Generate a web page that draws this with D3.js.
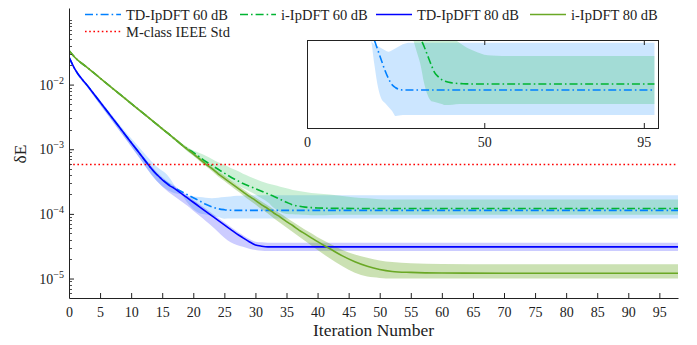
<!DOCTYPE html>
<html>
<head>
<meta charset="utf-8">
<script src="https://cdn.jsdelivr.net/npm/d3@7"></script>
<style>
  body { margin: 0; background: #fff; }
  svg text { font-family: "Liberation Serif", "DejaVu Serif", serif !important; fill: #222; }
</style>
</head>
<body>
<div id="chart"></div>
<script>
// iteration grid shared by every series
var iterations = [0,1,3,5,8,11,14,16,17,18,19,20,21,22,23,24,25,26,27,28,29,30,31,32,33,34,35,36,37,38,39,40,42,44,46,48,50,52,55,60,70,98];

var td60Mean = [-1.574,-1.77,-2.02,-2.27,-2.645,-3.02,-3.38,-3.54,-3.60,-3.65,-3.70,-3.75,-3.80,-3.85,-3.89,-3.92,-3.935,-3.943,-3.946,-3.946,-3.946,-3.946,-3.946,-3.946,-3.946,-3.946,-3.946,-3.946,-3.946,-3.946,-3.946,-3.946,-3.946,-3.946,-3.946,-3.946,-3.946,-3.946,-3.946,-3.946,-3.946,-3.946];
var td60Lo   = [-1.59,-1.79,-2.05,-2.31,-2.70,-3.09,-3.48,-3.64,-3.68,-3.70,-3.82,-3.93,-3.99,-4.01,-4.03,-4.05,-4.075,-4.072,-4.07,-4.07,-4.07,-4.07,-4.07,-4.07,-4.07,-4.07,-4.07,-4.07,-4.07,-4.07,-4.07,-4.07,-4.07,-4.07,-4.07,-4.07,-4.07,-4.07,-4.07,-4.07,-4.07,-4.07];
var td60Hi   = [-1.56,-1.755,-2.0,-2.24,-2.60,-2.94,-3.26,-3.42,-3.56,-3.70,-3.72,-3.73,-3.74,-3.75,-3.757,-3.75,-3.74,-3.73,-3.72,-3.715,-3.713,-3.713,-3.713,-3.713,-3.713,-3.713,-3.713,-3.713,-3.713,-3.713,-3.713,-3.713,-3.713,-3.713,-3.713,-3.713,-3.713,-3.713,-3.713,-3.713,-3.713,-3.713];

var i60Mean = [-1.472,-1.585,-1.74,-1.90,-2.135,-2.37,-2.605,-2.76,-2.84,-2.92,-2.99,-3.05,-3.12,-3.19,-3.25,-3.31,-3.37,-3.43,-3.48,-3.53,-3.57,-3.61,-3.65,-3.69,-3.73,-3.775,-3.82,-3.86,-3.88,-3.895,-3.903,-3.908,-3.913,-3.915,-3.916,-3.916,-3.916,-3.916,-3.916,-3.916,-3.916,-3.916];
var i60Lo   = [-1.485,-1.595,-1.75,-1.91,-2.15,-2.385,-2.62,-2.78,-2.86,-2.94,-3.03,-3.10,-3.17,-3.24,-3.30,-3.37,-3.43,-3.49,-3.55,-3.60,-3.65,-3.70,-3.76,-3.82,-3.91,-3.97,-4.00,-4.005,-4.01,-4.015,-4.02,-4.02,-4.016,-4.015,-4.015,-4.015,-4.015,-4.015,-4.015,-4.015,-4.015,-4.015];
var i60Hi   = [-1.46,-1.575,-1.73,-1.89,-2.12,-2.355,-2.59,-2.745,-2.82,-2.90,-2.96,-3.02,-3.06,-3.10,-3.15,-3.20,-3.24,-3.29,-3.33,-3.38,-3.42,-3.46,-3.50,-3.53,-3.555,-3.58,-3.605,-3.63,-3.645,-3.66,-3.675,-3.685,-3.70,-3.725,-3.745,-3.76,-3.772,-3.776,-3.778,-3.778,-3.778,-3.778];

var td80Mean = [-1.574,-1.77,-2.02,-2.27,-2.645,-3.02,-3.38,-3.55,-3.61,-3.68,-3.75,-3.82,-3.89,-3.96,-4.03,-4.10,-4.17,-4.24,-4.31,-4.37,-4.43,-4.48,-4.50,-4.51,-4.51,-4.51,-4.51,-4.51,-4.51,-4.51,-4.51,-4.51,-4.51,-4.51,-4.51,-4.51,-4.51,-4.51,-4.51,-4.51,-4.51,-4.51];
var td80Lo   = [-1.59,-1.79,-2.05,-2.31,-2.70,-3.09,-3.48,-3.66,-3.73,-3.80,-3.87,-3.95,-4.03,-4.11,-4.19,-4.28,-4.37,-4.44,-4.48,-4.51,-4.54,-4.56,-4.57,-4.574,-4.574,-4.574,-4.574,-4.574,-4.574,-4.574,-4.574,-4.574,-4.574,-4.574,-4.574,-4.574,-4.574,-4.574,-4.574,-4.574,-4.574,-4.574];
var td80Hi   = [-1.56,-1.755,-2.005,-2.255,-2.625,-2.99,-3.34,-3.51,-3.57,-3.64,-3.71,-3.78,-3.85,-3.92,-3.99,-4.06,-4.13,-4.20,-4.27,-4.33,-4.39,-4.43,-4.44,-4.446,-4.446,-4.446,-4.446,-4.446,-4.446,-4.446,-4.446,-4.446,-4.446,-4.446,-4.446,-4.446,-4.446,-4.446,-4.446,-4.446,-4.446,-4.446];

var i80Mean = [-1.472,-1.585,-1.74,-1.90,-2.135,-2.37,-2.605,-2.76,-2.84,-2.92,-3.0,-3.07,-3.15,-3.23,-3.30,-3.38,-3.45,-3.52,-3.59,-3.66,-3.73,-3.79,-3.86,-3.92,-3.99,-4.05,-4.12,-4.18,-4.25,-4.31,-4.37,-4.43,-4.54,-4.65,-4.74,-4.81,-4.86,-4.89,-4.905,-4.915,-4.918,-4.918];
var i80Lo   = [-1.485,-1.595,-1.75,-1.91,-2.15,-2.385,-2.62,-2.78,-2.86,-2.94,-3.02,-3.095,-3.18,-3.26,-3.335,-3.42,-3.49,-3.565,-3.64,-3.71,-3.785,-3.855,-3.93,-3.995,-4.07,-4.14,-4.21,-4.28,-4.35,-4.42,-4.49,-4.56,-4.69,-4.81,-4.91,-4.97,-4.99,-5.0,-5.0,-5.0,-5.0,-5.0];
var i80Hi   = [-1.46,-1.575,-1.73,-1.89,-2.12,-2.355,-2.59,-2.745,-2.82,-2.90,-2.975,-3.045,-3.12,-3.20,-3.27,-3.345,-3.41,-3.48,-3.55,-3.615,-3.685,-3.745,-3.81,-3.87,-3.935,-3.995,-4.06,-4.12,-4.185,-4.245,-4.30,-4.36,-4.46,-4.56,-4.63,-4.68,-4.72,-4.745,-4.765,-4.775,-4.78,-4.78];

var mClassLimit = 6e-4;

var seriesNames = ["TD-IpDFT 60 dB", "i-IpDFT 60 dB", "TD-IpDFT 80 dB", "i-IpDFT 80 dB"];
var xTicks = [0,5,10,15,20,25,30,35,40,45,50,55,60,65,70,75,80,85,90,95];
var yTicks = [1e-5,1e-4,1e-3,1e-2];
var insetTicks = [0,50,95];

var width = 697, height = 345;
var plot = {left: 69, right: 678, top: 8, bottom: 298};
var ins = {left: 307, right: 658, top: 40, bottom: 128};
var serif = "'Liberation Serif', 'DejaVu Serif', serif";

var svg = d3.select("#chart").append("svg")
    .attr("width", width)
    .attr("height", height)
    .style("font-family", serif);

var x = d3.scaleLinear().domain([0, 98]).range([plot.left, plot.right]);
var y = d3.scaleLog().domain([5e-6, 0.153]).range([plot.bottom, plot.top]);

var xi = d3.scaleLinear().domain([0, 99]).range([ins.left, ins.right]);
var yi = d3.scaleLog().domain([7.35e-5, 2.0e-4]).range([ins.bottom, ins.top]);

function rows(mean, lo, hi) {
  return iterations.map(function(it, i) {
    return {it: it, m: Math.pow(10, mean[i]), lo: Math.pow(10, lo[i]), hi: Math.pow(10, hi[i])};
  });
}

var series = [
  {name: seriesNames[0], data: rows(td60Mean, td60Lo, td60Hi), color: "rgb(0,128,255)", op: 0.2, dash: "8,3,1.6,3"},
  {name: seriesNames[1], data: rows(i60Mean, i60Lo, i60Hi), color: "rgb(0,180,50)", op: 0.2, dash: "8,3,1.6,3"},
  {name: seriesNames[2], data: rows(td80Mean, td80Lo, td80Hi), color: "rgb(0,0,255)", op: 0.2, dash: null},
  {name: seriesNames[3], data: rows(i80Mean, i80Lo, i80Hi), color: "rgb(106,168,37)", op: 0.35, dash: null}
];

var defs = svg.append("defs");
defs.append("clipPath").attr("id", "clipMain").append("rect")
    .attr("x", plot.left).attr("y", plot.top)
    .attr("width", plot.right - plot.left).attr("height", plot.bottom - plot.top);
defs.append("clipPath").attr("id", "clipInset").append("rect")
    .attr("x", ins.left).attr("y", ins.top)
    .attr("width", ins.right - ins.left).attr("height", ins.bottom - ins.top);

function drawPanel(g, sx, sy, list) {
  list.forEach(function(s) {
    var area = d3.area().curve(d3.curveMonotoneX)
        .x(function(d) { return sx(d.it); })
        .y0(function(d) { return sy(d.lo); })
        .y1(function(d) { return sy(d.hi); });
    g.append("path").datum(s.data)
        .attr("d", area)
        .attr("fill", s.color)
        .attr("fill-opacity", s.op);
  });
  list.forEach(function(s) {
    var line = d3.line().curve(d3.curveMonotoneX)
        .x(function(d) { return sx(d.it); })
        .y(function(d) { return sy(d.m); });
    g.append("path").datum(s.data)
        .attr("d", line)
        .attr("fill", "none")
        .attr("stroke", s.color)
        .attr("stroke-width", 1.6)
        .attr("stroke-dasharray", s.dash);
  });
}

// main panel
var main = svg.append("g").attr("clip-path", "url(#clipMain)");
drawPanel(main, x, y, series);

var limitY = Math.round(y(mClassLimit)) + 0.5;
main.append("line")
    .attr("x1", x(0)).attr("x2", x(98))
    .attr("y1", limitY).attr("y2", limitY)
    .attr("stroke", "#ff0000").attr("stroke-width", 1.6)
    .attr("stroke-dasharray", "1.6,2.6");

// axes
var xAxis = svg.append("g").attr("transform", "translate(0," + plot.bottom + ")")
    .call(d3.axisBottom(x).tickValues(xTicks).tickSize(-5).tickPadding(9).tickSizeOuter(0));
xAxis.attr("font-family", null);
xAxis.select(".domain").attr("stroke", "#222");
xAxis.selectAll(".tick line").attr("stroke", "#222");
xAxis.selectAll("text").attr("font-size", "14px").attr("fill", "#222");

var minor = [];
[-6,-5,-4,-3,-2,-1].forEach(function(e) {
  for (var k = 1; k < 10; k++) {
    var v = k * Math.pow(10, e);
    if (v >= 5e-6 && v <= 0.153 && yTicks.indexOf(v) < 0) minor.push(v);
  }
});
svg.append("g").selectAll("line").data(minor).enter().append("line")
    .attr("x1", plot.left).attr("x2", plot.left + 3)
    .attr("y1", function(d) { return Math.round(y(d)) + 0.5; })
    .attr("y2", function(d) { return Math.round(y(d)) + 0.5; })
    .attr("stroke", "#222").attr("stroke-width", 0.8);

var yAxis = svg.append("g").attr("transform", "translate(" + plot.left + ",0)")
    .call(d3.axisLeft(y).tickValues(yTicks).tickSize(-5).tickFormat("").tickSizeOuter(0));
yAxis.select(".domain").attr("stroke", "#222");
yAxis.selectAll(".tick line").attr("stroke", "#222");

var yLab = svg.append("g").selectAll("text").data(yTicks).enter().append("text")
    .attr("x", plot.left - 5)
    .attr("y", function(d) { return y(d) + 5; })
    .attr("text-anchor", "end")
    .attr("font-size", "14px");
yLab.append("tspan").text("10");
yLab.append("tspan").attr("dy", -6).attr("font-size", "10px")
    .text(function(d) { return "\u2212" + Math.round(-Math.log10(d)); });

svg.append("text")
    .attr("x", plot.left + (plot.right - plot.left) / 2)
    .attr("y", 336)
    .attr("text-anchor", "middle")
    .attr("font-size", "17.5px")
    .text("Iteration Number");

svg.append("text")
    .attr("transform", "translate(26,154) rotate(-90)")
    .attr("text-anchor", "middle")
    .attr("font-size", "17.5px")
    .text("\u03b4E");

// inset
svg.append("rect")
    .attr("x", ins.left).attr("y", ins.top)
    .attr("width", ins.right - ins.left).attr("height", ins.bottom - ins.top)
    .attr("fill", "white");

var inset = svg.append("g").attr("clip-path", "url(#clipInset)");
drawPanel(inset, xi, yi, series.slice(0, 2));

svg.append("rect")
    .attr("x", ins.left + 0.5).attr("y", ins.top + 0.5)
    .attr("width", ins.right - ins.left).attr("height", ins.bottom - ins.top)
    .attr("fill", "none").attr("stroke", "#222").attr("stroke-width", 1);

var insAxis = svg.append("g").attr("transform", "translate(0," + ins.bottom + ")")
    .call(d3.axisBottom(xi).tickValues(insetTicks).tickSize(-5).tickPadding(9).tickSizeOuter(0));
insAxis.attr("font-family", null);
insAxis.select(".domain").remove();
insAxis.selectAll(".tick line").attr("stroke", "#222");
insAxis.selectAll("text").attr("font-size", "14px").attr("fill", "#222");

svg.append("g").attr("transform", "translate(0," + ins.top + ")")
    .call(d3.axisTop(xi).tickValues(insetTicks).tickSize(-5).tickFormat("").tickSizeOuter(0))
    .call(function(g) { g.select(".domain").remove(); g.selectAll(".tick line").attr("stroke", "#222"); });

// legend
var legendItems = [
  {label: seriesNames[0], color: series[0].color, dash: series[0].dash, x: 85, y: 14},
  {label: seriesNames[1], color: series[1].color, dash: series[1].dash, x: 240, y: 14},
  {label: seriesNames[2], color: series[2].color, dash: null, x: 376, y: 14},
  {label: seriesNames[3], color: series[3].color, dash: null, x: 530, y: 14},
  {label: "M-class IEEE Std", color: "#ff0000", dash: "1.6,2.6", x: 85, y: 31}
];
var legend = svg.append("g").selectAll("g").data(legendItems).enter().append("g")
    .attr("transform", function(d) { return "translate(" + d.x + "," + d.y + ".5)"; });
legend.append("line")
    .attr("x1", 0).attr("x2", 36).attr("y1", 0).attr("y2", 0)
    .attr("stroke", function(d) { return d.color; })
    .attr("stroke-width", 1.6)
    .attr("stroke-dasharray", function(d) { return d.dash; });
legend.append("text")
    .attr("x", 41).attr("y", 5)
    .attr("font-size", "14.5px")
    .text(function(d) { return d.label; });
</script>
</body>
</html>
